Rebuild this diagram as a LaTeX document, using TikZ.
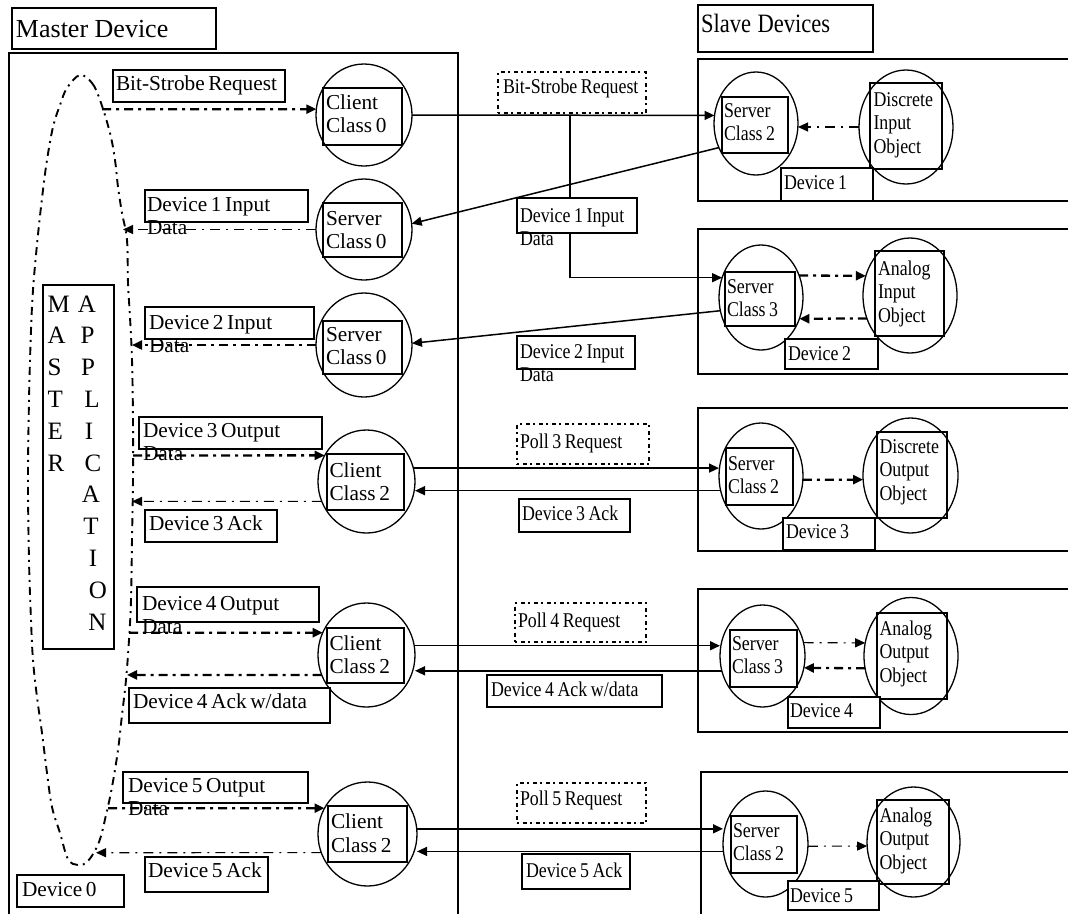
\documentclass[tikz,border=0pt]{standalone}
\usepackage{fontspec}
\setmainfont{Liberation Serif}
\newfontfamily\condserif[FakeStretch=0.85]{Liberation Serif}
\usetikzlibrary{arrows.meta,shapes.geometric}
\newcommand\narrowspaces{\spaceskip=0.17em\relax}
\newcommand\widespaces{\spaceskip=0.25em\relax}
\newcommand\leftfont{\fontsize{21.3pt}{23.5pt}\selectfont}
\newcommand\rightfont{\condserif\fontsize{21pt}{23.5pt}\selectfont}

\tikzset{
  every node/.style={outer sep=0pt},
  frame/.style={line width=1.5pt},
  lbox/.style={draw, fill=white, line width=1.5pt, inner sep=0pt, anchor=north west},
  pbox/.style={lbox, line width=2pt, dash pattern=on 2pt off 3.5pt on 4pt off 3.5pt},
  ibox/.style={draw, line width=1.4pt, inner sep=0pt, anchor=north west},
  ring/.style={ellipse, draw, line width=1.3pt, inner sep=0pt},
  ltxt/.style={inner sep=0pt, anchor=base west, text width=220pt, align=left, font=\leftfont,
               execute at begin node=\narrowspaces},
  rtxt/.style={ltxt, font=\rightfont},
  bigtxt/.style={ltxt, font=\fontsize{26pt}{30pt}\selectfont, execute at begin node=\widespaces},
  slavetxt/.style={ltxt, font=\condserif\fontsize{26.5pt}{30pt}\selectfont, execute at begin node=\widespaces},
  apptxt/.style={inner sep=0pt, anchor=base, font=\fontsize{25pt}{30pt}\selectfont},
  wire/.style={line width=1.5pt},
  heavydd/.style={line width=2.3pt, dash pattern=on 9pt off 5pt on 3pt off 5pt},
  lightdd/.style={line width=1.1pt, dash pattern=on 10pt off 6pt on 2pt off 6pt},
  apploop/.style={line width=1.9pt, dash pattern=on 8pt off 5pt on 2pt off 5pt},
}

\begin{document}
\begin{tikzpicture}[x=1pt, y=-1pt, >={Triangle[length=10pt,width=9pt]}]
\useasboundingbox (0,0) rectangle (1068,914);

% ---------- outer frames ----------
\draw[frame] (9,914) -- (9,53) -- (458,53) -- (458,914);
\draw[frame] (1068,59)  -- (698,59)  -- (698,201) -- (1068,201);
\draw[frame] (1068,229) -- (698,229) -- (698,374) -- (1068,374);
\draw[frame] (1068,408) -- (698,408) -- (698,551) -- (1068,551);
\draw[frame] (1068,589) -- (698,589) -- (698,732) -- (1068,732);
\draw[frame] (1068,772) -- (701,772) -- (701,914);

% ---------- master application loop ----------
\draw[apploop] plot[smooth cycle, tension=0.6] coordinates {
  (80,75) (92,83) (100,100) (110,133) (115,160) (118,187) (122,213) (127,240)
  (128,283) (130,317) (132,360) (133,420) (133,480) (132,540) (131,600)
  (129,640) (126,680) (122,715) (118,750) (112,787) (106,815) (99,842)
  (88,861) (78,865) (68,859) (60,833) (52,807) (47,773) (42,733) (37,697)
  (33,660) (31,620) (29,560) (28,480) (29,400) (31,330) (33,290) (36,255)
  (39,225) (43,190) (47,160) (53,127) (60,105) (67,88)};
\coordinate (m1) at (102,109.2);
\coordinate (m2) at (123,229.5);
\coordinate (m3) at (132,345);
\coordinate (m4) at (133,455.4);
\coordinate (m5) at (132,501.4);
\coordinate (m6) at (129,632.7);
\coordinate (m7) at (127,674.9);
\coordinate (m8) at (108,808.2);
\coordinate (m9) at (96,852.7);

% MASTER APPLICATION
\node[lbox, minimum width=71pt, minimum height=364pt] (mapp) at (43,285) {};
\foreach \ch [count=\k from 0] in {M,A,S,T,E,R}
  \node[apptxt, anchor=base west] (ml\k) at (47.5,{312+31.8*\k}) {\ch};
\foreach \ch/\cx [count=\k from 0] in {A/87,P/87.5,P/88,L/92,I/89,C/93,A/91,T/91,I/93,O/98,N/97.5}
  \node[apptxt] (mr\k) at (\cx,{312+31.8*\k}) {\ch};

% ---------- master side units ----------
\node[ring, minimum width=96pt, minimum height=102pt] (cc0) at (364,115) {};
\node[ibox, minimum width=79pt, minimum height=57pt] (cc0r) at (323,88) {};
\node[ltxt] (cc0t) at (326,109) {Client\\Class 0};

\node[ring, minimum width=96pt, minimum height=101pt] (sc0a) at (364,229.5) {};
\node[ibox, minimum width=79pt, minimum height=54pt] (sc0ar) at (323,203) {};
\node[ltxt] (sc0at) at (326,225) {Server\\Class 0};

\node[ring, minimum width=96pt, minimum height=104pt] (sc0b) at (364,345) {};
\node[ibox, minimum width=79pt, minimum height=53pt] (sc0br) at (323,321) {};
\node[ltxt] (sc0bt) at (326,341) {Server\\Class 0};

\node[ring, minimum width=97pt, minimum height=103pt] (cc2a) at (366.5,481.5) {};
\node[ibox, minimum width=77pt, minimum height=56pt] (cc2ar) at (327,454) {};
\node[ltxt] (cc2at) at (329.5,477) {Client\\Class 2};

\node[ring, minimum width=97pt, minimum height=104pt] (cc2b) at (366.5,655) {};
\node[ibox, minimum width=77pt, minimum height=55pt] (cc2br) at (327,628) {};
\node[ltxt] (cc2bt) at (329.5,650) {Client\\Class 2};

\node[ring, minimum width=99pt, minimum height=104pt] (cc2c) at (367.5,834) {};
\node[ibox, minimum width=79pt, minimum height=56pt] (cc2cr) at (328,806) {};
\node[ltxt] (cc2ct) at (331,828.5) {Client\\Class 2};

% ---------- slave side units ----------
\node[ring, minimum width=84pt, minimum height=103pt] (sd1) at (756,123.5) {};
\node[ibox, minimum width=66pt, minimum height=56pt] (sd1r) at (722,97) {};
\node[rtxt] (sd1t) at (724,117) {Server\\Class 2};
\node[ring, minimum width=94pt, minimum height=114pt] (do1) at (906,127) {};
\node[ibox, minimum width=72pt, minimum height=86pt] (do1r) at (870,83) {};
\node[rtxt] (do1t) at (873.5,106) {Discrete\\Input\\Object};

\node[ring, minimum width=84pt, minimum height=105pt] (sd2) at (761,297.5) {};
\node[ibox, minimum width=70pt, minimum height=54pt] (sd2r) at (725,272) {};
\node[rtxt] (sd2t) at (727,293) {Server\\Class 3};
\node[ring, minimum width=94pt, minimum height=115pt] (ao2) at (910,295.5) {};
\node[ibox, minimum width=69pt, minimum height=85pt] (ao2r) at (875,251) {};
\node[rtxt] (ao2t) at (878,275) {Analog\\Input\\Object};

\node[ring, minimum width=84pt, minimum height=106pt] (sd3) at (761,476) {};
\node[ibox, minimum width=67pt, minimum height=57pt] (sd3r) at (726,448) {};
\node[rtxt] (sd3t) at (728,470) {Server\\Class 2};
\node[ring, minimum width=95pt, minimum height=115pt] (dox) at (910.5,475.5) {};
\node[ibox, minimum width=70pt, minimum height=86pt] (doxr) at (877,432) {};
\node[rtxt] (doxt) at (879.5,453) {Discrete\\Output\\Object};

\node[ring, minimum width=85pt, minimum height=102pt] (sd4) at (762.5,656) {};
\node[ibox, minimum width=67pt, minimum height=57pt] (sd4r) at (730,630) {};
\node[rtxt] (sd4t) at (732,650) {Server\\Class 3};
\node[ring, minimum width=94pt, minimum height=117pt] (ao4) at (911,656) {};
\node[ibox, minimum width=70pt, minimum height=86pt] (ao4r) at (877,613) {};
\node[rtxt] (ao4t) at (879.5,635) {Analog\\Output\\Object};

\node[ring, minimum width=85pt, minimum height=106pt] (sd5) at (765.5,844) {};
\node[ibox, minimum width=66pt, minimum height=57pt] (sd5r) at (731,816) {};
\node[rtxt] (sd5t) at (733,837) {Server\\Class 2};
\node[ring, minimum width=93pt, minimum height=110pt] (ao5) at (913.5,842) {};
\node[ibox, minimum width=72pt, minimum height=84pt] (ao5r) at (877,800) {};
\node[rtxt] (ao5t) at (879.5,822) {Analog\\Output\\Object};

% ---------- network messages (solid) ----------
\draw[wire,->] (cc0.east) -- (sd1.169);
\coordinate (br) at (570,115);
\draw[wire,->] (br) |- (sd2.153);
\draw[wire,->] (sd1.213) -- (sc0a.7);
\draw[wire,->] (sd2.198) -- (sc0b.2);
\draw[wire,->] (cc2a.16) -- (cc2a.16 -| sd3.west);
\draw[wire,->] (sd3.200) -- (sd3.200 -| cc2a.east);
\draw[wire,->] (cc2b.11) -- (cc2b.11 -| sd4.west);
\draw[wire,->] (sd4.200) -- (sd4.200 -| cc2b.east);
\draw[wire,->] (cc2c.6) -- (cc2c.6 -| sd5.west);
\draw[wire,->] (sd5.190) -- (sd5.190 -| cc2c.east);

% ---------- application-side data flows ----------
\draw[heavydd,->] (m1) -- (cc0.173);
\draw[lightdd,->] (sc0a.west) -- (m2);
\draw[heavydd,->] (sc0b.west) -- (m3);
\draw[heavydd,->] (m4) -- (cc2a.148);
\draw[lightdd,->] (cc2a.204) -- (m5);
\draw[heavydd,->] (m6) -- (cc2b.153);
\draw[heavydd,->] (cc2b.204) -- (m7);
\draw[heavydd,->] (m8) -- (cc2c.149);
\draw[lightdd,->] (cc2c.202) -- (m9);

% ---------- object-side data flows ----------
\draw[lightdd,->] (do1.west) -- (do1.west -| sd1.east);
\draw[heavydd,->] (sd2.30) -- (ao2.156);
\draw[heavydd,->] (ao2.208) -- (sd2.331);
\draw[heavydd,->] (sd3.355) -- (dox.185);
\draw[lightdd,->] (sd4.18) -- (ao4.164);
\draw[heavydd,->] (ao4.195) -- (sd4.344);
\draw[lightdd,->] (sd5.357) -- (ao5.185);

% ---------- titles ----------
\node[lbox, minimum width=204pt, minimum height=41pt] (mdev) at (12,8) {};
\node[bigtxt] (mdevt) at (16,37) {Master Device};
\node[lbox, minimum width=175pt, minimum height=47pt] (sdev) at (698,5) {};
\node[slavetxt] (sdevt) at (701,32) {Slave Devices};

% ---------- master side labels ----------
\node[lbox, minimum width=172pt, minimum height=32pt] (lb0) at (113,70) {};
\node[ltxt] (lb0t) at (116,90) {Bit-Strobe Request};
\node[lbox, minimum width=163pt, minimum height=32pt] (lb1) at (145,190) {};
\node[ltxt] (lb1t) at (147,211) {Device 1 Input\\Data};
\node[lbox, minimum width=169pt, minimum height=32pt] (lb2) at (145,307) {};
\node[ltxt] (lb2t) at (149,329) {Device 2 Input\\Data};
\node[lbox, minimum width=183pt, minimum height=32pt] (lb3) at (139,417) {};
\node[ltxt] (lb3t) at (143,437) {Device 3 Output\\Data};
\node[lbox, minimum width=132pt, minimum height=32pt] (lb3a) at (145,510) {};
\node[ltxt] (lb3at) at (149,530) {Device 3 Ack};
\node[lbox, minimum width=182pt, minimum height=35pt] (lb4) at (137,587) {};
\node[ltxt] (lb4t) at (142,610) {Device 4 Output\\Data};
\node[lbox, minimum width=201pt, minimum height=35pt] (lb4a) at (129,688) {};
\node[ltxt] (lb4at) at (133,708) {Device 4 Ack w/data};
\node[lbox, minimum width=185pt, minimum height=31pt] (lb5) at (123,772) {};
\node[ltxt] (lb5t) at (128,792) {Device 5 Output\\Data};
\node[lbox, minimum width=123pt, minimum height=35pt] (lb5a) at (145,857) {};
\node[ltxt] (lb5at) at (148,877) {Device 5 Ack};
\node[lbox, minimum width=107pt, minimum height=32pt] (ldev0) at (17,875) {};
\node[ltxt] (ldev0t) at (22,896) {Device 0};

% ---------- network labels ----------
\node[pbox, minimum width=148pt, minimum height=41pt] (rb0) at (498,72) {};
\node[rtxt] (rb0t) at (503,93) {Bit-Strobe Request};
\node[lbox, minimum width=120pt, minimum height=35pt] (rb1) at (517,198) {};
\node[rtxt] (rb1t) at (520,222) {Device 1 Input\\Data};
\node[lbox, minimum width=118pt, minimum height=33pt] (rb2) at (517,336) {};
\node[rtxt] (rb2t) at (520,358) {Device 2 Input\\Data};
\node[pbox, minimum width=132pt, minimum height=40pt] (rp3) at (517,424) {};
\node[rtxt] (rp3t) at (520,448) {Poll 3 Request};
\node[lbox, minimum width=111pt, minimum height=33pt] (ra3) at (519,499) {};
\node[rtxt] (ra3t) at (522,520) {Device 3 Ack};
\node[pbox, minimum width=131pt, minimum height=39pt] (rp4) at (515,603) {};
\node[rtxt] (rp4t) at (518,627) {Poll 4 Request};
\node[lbox, minimum width=175pt, minimum height=32pt] (ra4) at (487,675) {};
\node[rtxt] (ra4t) at (491,696) {Device 4 Ack w/data};
\node[pbox, minimum width=129pt, minimum height=40pt] (rp5) at (517,783) {};
\node[rtxt] (rp5t) at (520,805) {Poll 5 Request};
\node[lbox, minimum width=108pt, minimum height=35pt] (ra5) at (522,854) {};
\node[rtxt] (ra5t) at (526,877) {Device 5 Ack};

% ---------- slave device tags ----------
\node[lbox, minimum width=92pt, minimum height=33pt] (dv1) at (781,168) {};
\node[rtxt] (dv1t) at (784,189) {Device 1};
\node[lbox, minimum width=93pt, minimum height=30pt] (dv2) at (785,339) {};
\node[rtxt] (dv2t) at (788,360) {Device 2};
\node[lbox, minimum width=92pt, minimum height=32pt] (dv3) at (783,518) {};
\node[rtxt] (dv3t) at (786,538) {Device 3};
\node[lbox, minimum width=92pt, minimum height=31pt] (dv4) at (788,697) {};
\node[rtxt] (dv4t) at (790,717) {Device 4};
\node[lbox, minimum width=91pt, minimum height=29pt] (dv5) at (788,881) {};
\node[rtxt] (dv5t) at (790,902) {Device 5};
\end{tikzpicture}
\end{document}
